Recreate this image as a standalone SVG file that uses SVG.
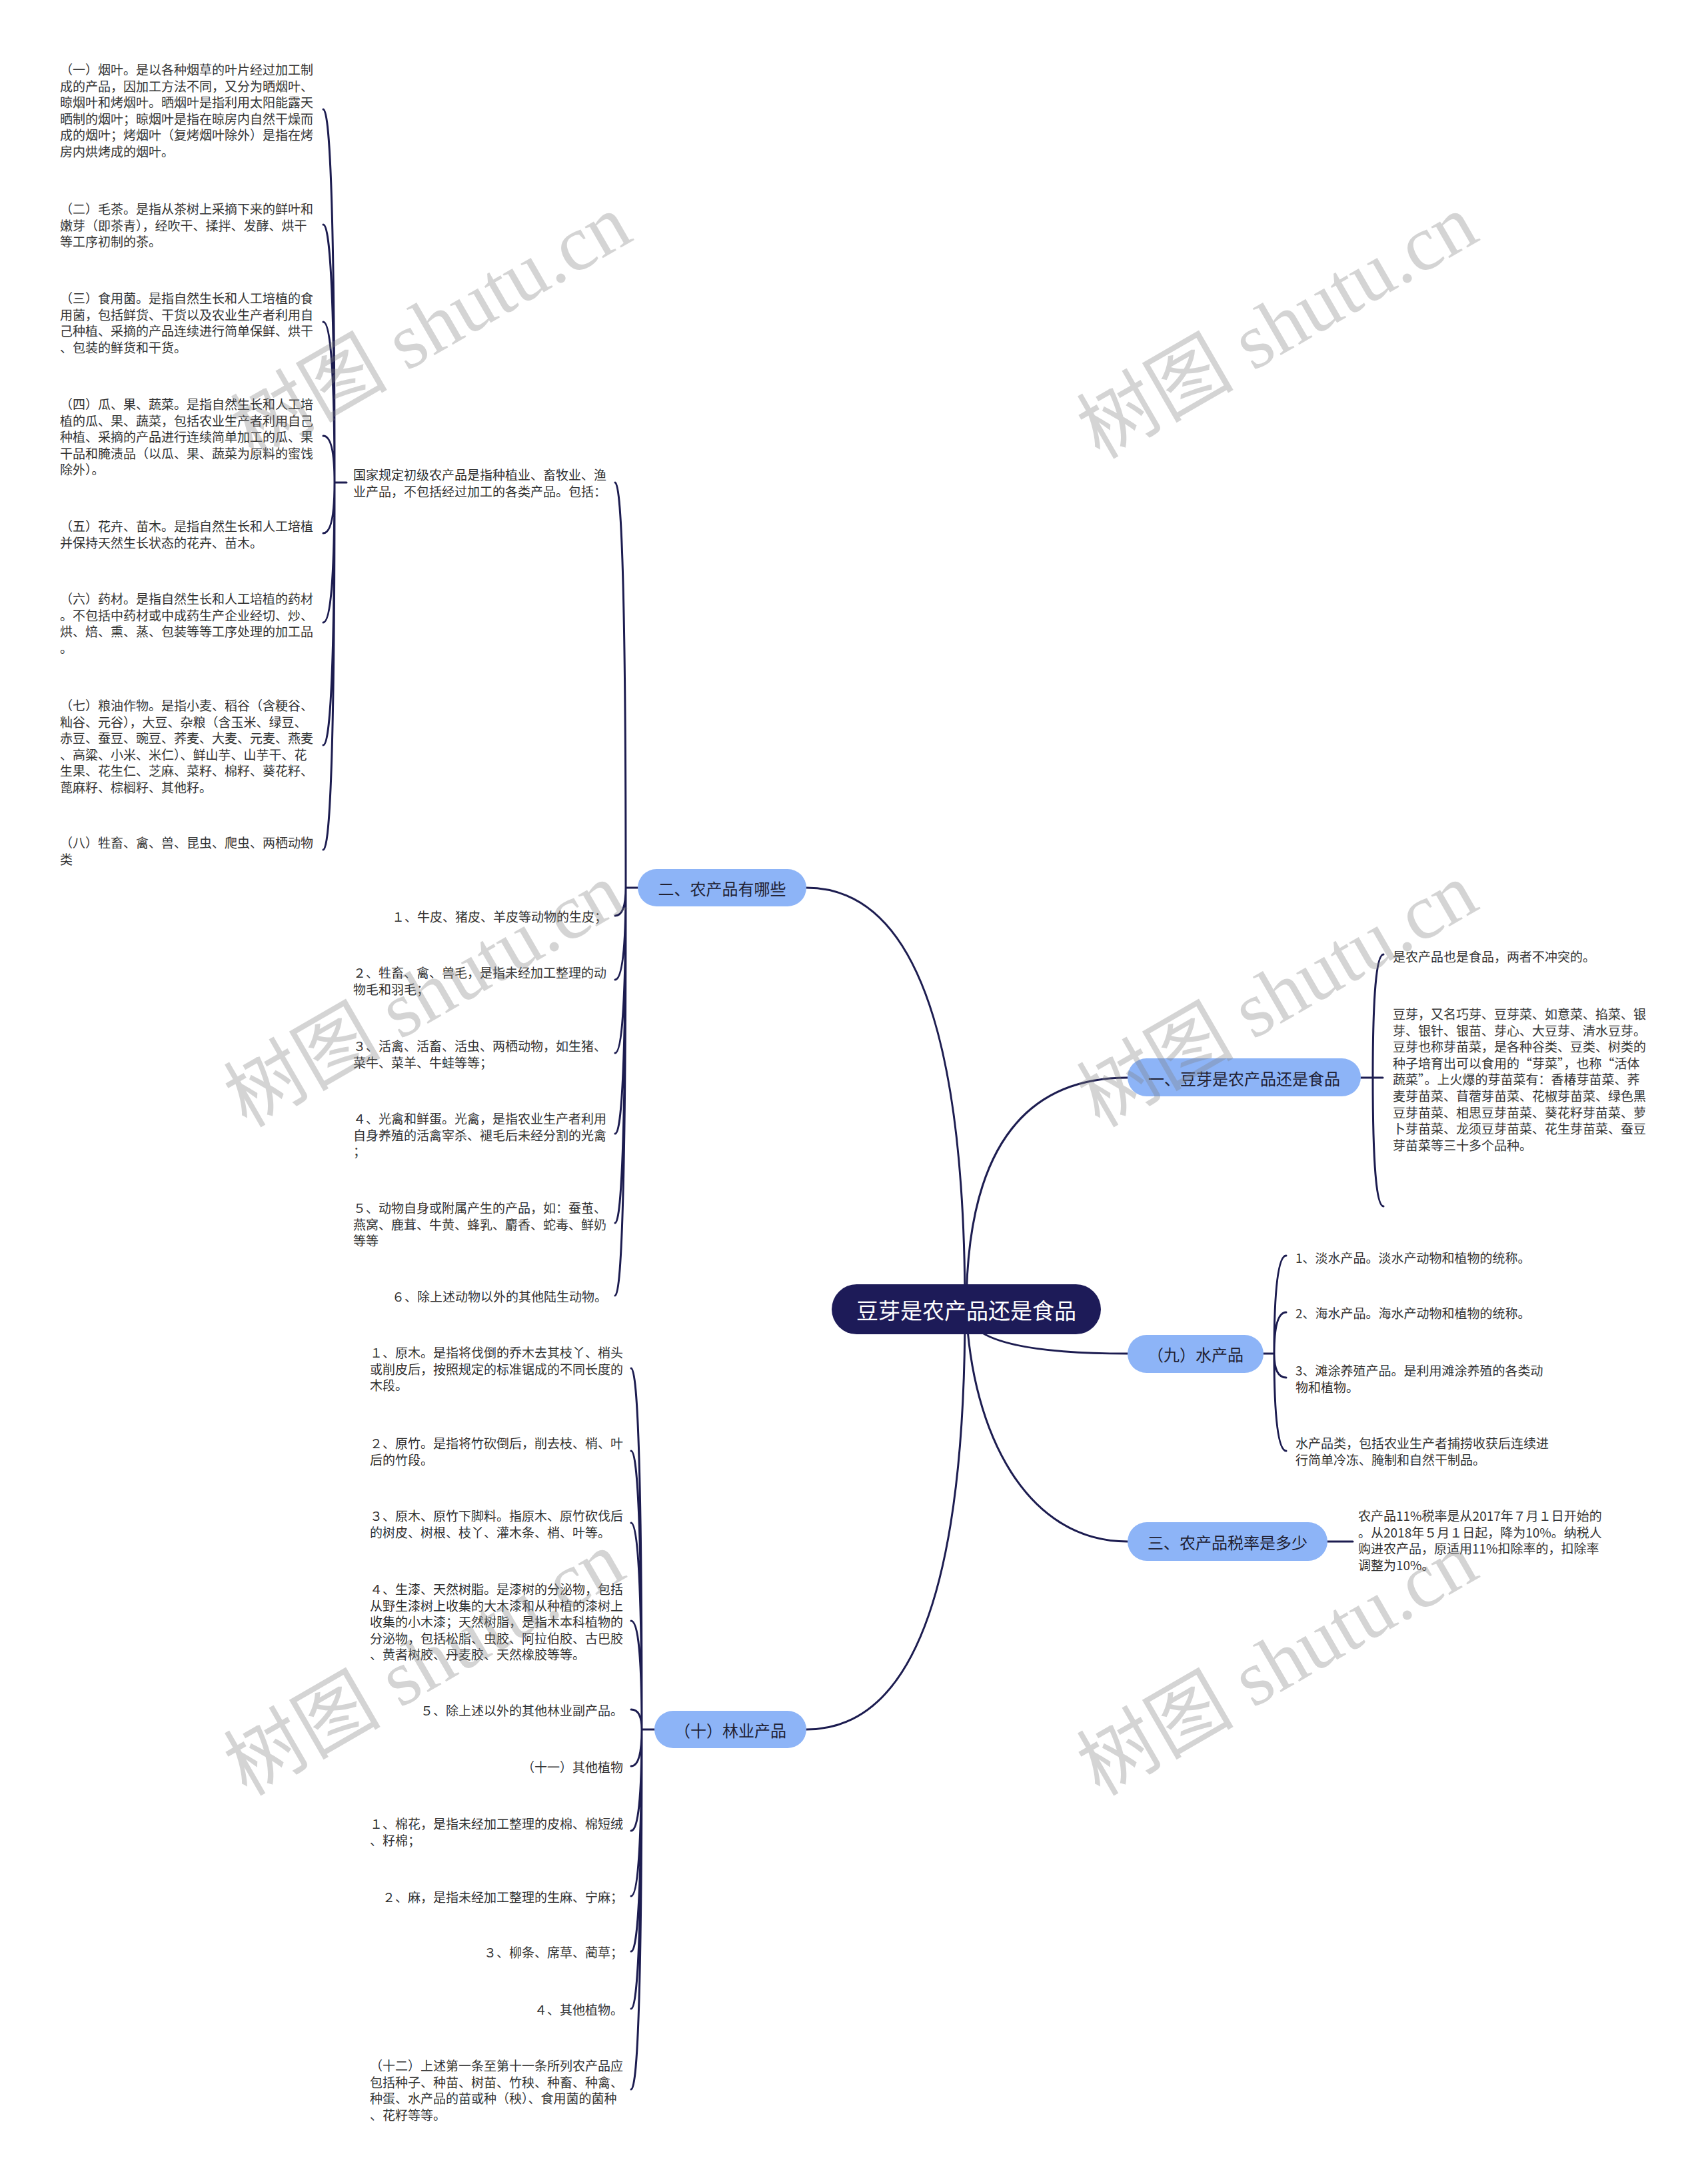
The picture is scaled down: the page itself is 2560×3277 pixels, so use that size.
<svg xmlns="http://www.w3.org/2000/svg" width="2560" height="3277" viewBox="0 0 2560 3277">
<style>
text{font-family:"Noto Sans CJK SC","Noto Sans",sans-serif;dominant-baseline:central}
.t{font-size:19px;fill:#333333}
.e{text-anchor:end}
.ln{fill:none;stroke:#1c1c50;stroke-width:3;stroke-linecap:round}
.br{fill:#8db4f7}
.bt{font-size:24px;fill:#222233;text-anchor:middle}
.rt{font-size:33px;fill:#ffffff;text-anchor:middle}
.wm{font-family:"Liberation Serif","Noto Sans CJK SC",serif;font-size:118px;fill:#808080;opacity:0.33;dominant-baseline:alphabetic}
</style>
<rect width="2560" height="3277" fill="#ffffff"/>
<g id="connectors">
<path class="ln" d="M1448 1965 Q1448 1332 1210 1332"/>
<path class="ln" d="M1450 1965 Q1450 1617 1692 1617"/>
<path class="ln" d="M1450 1965 Q1450 2031 1692 2031"/>
<path class="ln" d="M1450 1965 C1458 2150 1540 2313 1692 2313"/>
<path class="ln" d="M1448 1965 Q1448 2595 1210 2595"/>
<path class="ln" d="M2042 1617 H2075 M2060 1617 Q2060 1432 2076 1432 M2060 1617 Q2060 1810 2076 1810"/>
<path class="ln" d="M1896 2031 H1912 M1912 2031 Q1912 1884 1930 1884 M1912 2031 Q1912 1969 1930 1969 M1912 2031 Q1912 2067 1930 2067 M1912 2031 Q1912 2177 1930 2177"/>
<path class="ln" d="M1992 2313 H2030"/>
<path class="ln" d="M957 1332 H939 M939 1332 Q939 724 923 724 M939 1332 Q939 1374 923 1374 M939 1332 Q939 1470 923 1470 M939 1332 Q939 1580 923 1580 M939 1332 Q939 1701 923 1701 M939 1332 Q939 1835 923 1835 M939 1332 Q939 1944 923 1944"/>
<path class="ln" d="M520 724 H502 M502 724 Q502 164 485 164 M502 724 Q502 337 485 337 M502 724 Q502 483 485 483 M502 724 Q502 654 485 654 M502 724 Q502 800 485 800 M502 724 Q502 934 485 934 M502 724 Q502 1118 485 1118 M502 724 Q502 1275 485 1275"/>
<path class="ln" d="M982 2595 H963 M963 2595 Q963 2053 947 2053 M963 2595 Q963 2177 947 2177 M963 2595 Q963 2285 947 2285 M963 2595 Q963 2432 947 2432 M963 2595 Q963 2565 947 2565 M963 2595 Q963 2650 947 2650 M963 2595 Q963 2747 947 2747 M963 2595 Q963 2845 947 2845 M963 2595 Q963 2928 947 2928 M963 2595 Q963 3014 947 3014 M963 2595 Q963 3135 947 3135"/>
</g>
<g id="root">
<rect x="1248" y="1927" width="404" height="75" rx="37.5" fill="#1d1b58"/>
<text class="rt" x="1450" y="1965">豆芽是农产品还是食品</text>
</g>
<g id="b1">
<rect class="br" x="1692" y="1588" width="350" height="57" rx="28.5"/>
<text class="bt" x="1867" y="1617">一、豆芽是农产品还是食品</text>
</g>
<g id="b1-c1"><text class="t" x="2090" y="1434">是农产品也是食品，两者不冲突的。</text></g>
<g id="b1-c2"><text class="t" x="2090" y="1520">
<tspan x="2090" dy="0">豆芽，又名巧芽、豆芽菜、如意菜、掐菜、银</tspan>
<tspan x="2090" dy="24.6">芽、银针、银苗、芽心、大豆芽、清水豆芽。</tspan>
<tspan x="2090" dy="24.6">豆芽也称芽苗菜，是各种谷类、豆类、树类的</tspan>
<tspan x="2090" dy="24.6">种子培育出可以食用的“芽菜”，也称“活体</tspan>
<tspan x="2090" dy="24.6">蔬菜”。上火爆的芽苗菜有：香椿芽苗菜、荞</tspan>
<tspan x="2090" dy="24.6">麦芽苗菜、苜蓿芽苗菜、花椒芽苗菜、绿色黑</tspan>
<tspan x="2090" dy="24.6">豆芽苗菜、相思豆芽苗菜、葵花籽芽苗菜、萝</tspan>
<tspan x="2090" dy="24.6">卜芽苗菜、龙须豆芽苗菜、花生芽苗菜、蚕豆</tspan>
<tspan x="2090" dy="24.6">芽苗菜等三十多个品种。</tspan>
</text></g>
<g id="b9">
<rect class="br" x="1692" y="2003" width="204" height="57" rx="28.5"/>
<text class="bt" x="1794" y="2031">（九）水产品</text>
</g>
<g id="b9-c1"><text class="t" x="1944" y="1886">1、淡水产品。淡水产动物和植物的统称。</text></g>
<g id="b9-c2"><text class="t" x="1944" y="1969">2、海水产品。海水产动物和植物的统称。</text></g>
<g id="b9-c3"><text class="t" x="1944" y="2055"><tspan x="1944" dy="0">3、滩涂养殖产品。是利用滩涂养殖的各类动</tspan><tspan x="1944" dy="24.6">物和植物。</tspan></text></g>
<g id="b9-c4"><text class="t" x="1944" y="2164"><tspan x="1944" dy="0">水产品类，包括农业生产者捕捞收获后连续进</tspan><tspan x="1944" dy="24.6">行简单冷冻、腌制和自然干制品。</tspan></text></g>
<g id="b3">
<rect class="br" x="1692" y="2284" width="300" height="58" rx="29"/>
<text class="bt" x="1842" y="2313">三、农产品税率是多少</text>
</g>
<g id="b3-c1"><text class="t" x="2038" y="2273">
<tspan x="2038" dy="0">农产品11%税率是从2017年７月１日开始的</tspan>
<tspan x="2038" dy="24.6">。从2018年５月１日起，降为10%。纳税人</tspan>
<tspan x="2038" dy="24.6">购进农产品，原适用11%扣除率的，扣除率</tspan>
<tspan x="2038" dy="24.6">调整为10%。</tspan>
</text></g>
<g id="b2">
<rect class="br" x="957" y="1304" width="253" height="56" rx="28"/>
<text class="bt" x="1083.5" y="1332">二、农产品有哪些</text>
</g>
<g id="b2-c0"><text class="t" x="530" y="711"><tspan x="530" dy="0">国家规定初级农产品是指种植业、畜牧业、渔</tspan><tspan x="530" dy="25">业产品，不包括经过加工的各类产品。包括：</tspan></text></g>
<g id="b2-c0-1"><text class="t" x="90" y="103">
<tspan x="90" dy="0">（一）烟叶。是以各种烟草的叶片经过加工制</tspan>
<tspan x="90" dy="24.6">成的产品，因加工方法不同，又分为晒烟叶、</tspan>
<tspan x="90" dy="24.6">晾烟叶和烤烟叶。晒烟叶是指利用太阳能露天</tspan>
<tspan x="90" dy="24.6">晒制的烟叶；晾烟叶是指在晾房内自然干燥而</tspan>
<tspan x="90" dy="24.6">成的烟叶；烤烟叶（复烤烟叶除外）是指在烤</tspan>
<tspan x="90" dy="24.6">房内烘烤成的烟叶。</tspan>
</text></g>
<g id="b2-c0-2"><text class="t" x="90" y="312">
<tspan x="90" dy="0">（二）毛茶。是指从茶树上采摘下来的鲜叶和</tspan>
<tspan x="90" dy="24.6">嫩芽（即茶青），经吹干、揉拌、发酵、烘干</tspan>
<tspan x="90" dy="24.6">等工序初制的茶。</tspan>
</text></g>
<g id="b2-c0-3"><text class="t" x="90" y="446">
<tspan x="90" dy="0">（三）食用菌。是指自然生长和人工培植的食</tspan>
<tspan x="90" dy="24.6">用菌，包括鲜货、干货以及农业生产者利用自</tspan>
<tspan x="90" dy="24.6">己种植、采摘的产品连续进行简单保鲜、烘干</tspan>
<tspan x="90" dy="24.6">、包装的鲜货和干货。</tspan>
</text></g>
<g id="b2-c0-4"><text class="t" x="90" y="605">
<tspan x="90" dy="0">（四）瓜、果、蔬菜。是指自然生长和人工培</tspan>
<tspan x="90" dy="24.6">植的瓜、果、蔬菜，包括农业生产者利用自己</tspan>
<tspan x="90" dy="24.6">种植、采摘的产品进行连续简单加工的瓜、果</tspan>
<tspan x="90" dy="24.6">干品和腌渍品（以瓜、果、蔬菜为原料的蜜饯</tspan>
<tspan x="90" dy="24.6">除外）。</tspan>
</text></g>
<g id="b2-c0-5"><text class="t" x="90" y="788">
<tspan x="90" dy="0">（五）花卉、苗木。是指自然生长和人工培植</tspan>
<tspan x="90" dy="24.6">并保持天然生长状态的花卉、苗木。</tspan>
</text></g>
<g id="b2-c0-6"><text class="t" x="90" y="897">
<tspan x="90" dy="0">（六）药材。是指自然生长和人工培植的药材</tspan>
<tspan x="90" dy="24.6">。不包括中药材或中成药生产企业经切、炒、</tspan>
<tspan x="90" dy="24.6">烘、焙、熏、蒸、包装等等工序处理的加工品</tspan>
<tspan x="90" dy="24.6">。</tspan>
</text></g>
<g id="b2-c0-7"><text class="t" x="90" y="1057">
<tspan x="90" dy="0">（七）粮油作物。是指小麦、稻谷（含粳谷、</tspan>
<tspan x="90" dy="24.6">籼谷、元谷），大豆、杂粮（含玉米、绿豆、</tspan>
<tspan x="90" dy="24.6">赤豆、蚕豆、豌豆、荞麦、大麦、元麦、燕麦</tspan>
<tspan x="90" dy="24.6">、高粱、小米、米仁）、鲜山芋、山芋干、花</tspan>
<tspan x="90" dy="24.6">生果、花生仁、芝麻、菜籽、棉籽、葵花籽、</tspan>
<tspan x="90" dy="24.6">蓖麻籽、棕榈籽、其他籽。</tspan>
</text></g>
<g id="b2-c0-8"><text class="t" x="90" y="1263">
<tspan x="90" dy="0">（八）牲畜、禽、兽、昆虫、爬虫、两栖动物</tspan>
<tspan x="90" dy="24.6">类</tspan>
</text></g>
<g id="b2-c1"><text class="t e" x="911" y="1374">１、牛皮、猪皮、羊皮等动物的生皮；</text></g>
<g id="b2-c2"><text class="t" x="530" y="1458"><tspan x="530" dy="0">２、牲畜、禽、兽毛，是指未经加工整理的动</tspan><tspan x="530" dy="24.6">物毛和羽毛；</tspan></text></g>
<g id="b2-c3"><text class="t" x="530" y="1568"><tspan x="530" dy="0">３、活禽、活畜、活虫、两栖动物，如生猪、</tspan><tspan x="530" dy="24.6">菜牛、菜羊、牛蛙等等；</tspan></text></g>
<g id="b2-c4"><text class="t" x="530" y="1677"><tspan x="530" dy="0">４、光禽和鲜蛋。光禽，是指农业生产者利用</tspan><tspan x="530" dy="24.6">自身养殖的活禽宰杀、褪毛后未经分割的光禽</tspan><tspan x="530" dy="24.6">；</tspan></text></g>
<g id="b2-c5"><text class="t" x="530" y="1811"><tspan x="530" dy="0">５、动物自身或附属产生的产品，如：蚕茧、</tspan><tspan x="530" dy="24.6">燕窝、鹿茸、牛黄、蜂乳、麝香、蛇毒、鲜奶</tspan><tspan x="530" dy="24.6">等等</tspan></text></g>
<g id="b2-c6"><text class="t e" x="911" y="1944">６、除上述动物以外的其他陆生动物。</text></g>
<g id="b10">
<rect class="br" x="982" y="2567" width="228" height="56" rx="28"/>
<text class="bt" x="1096" y="2595">（十）林业产品</text>
</g>
<g id="b10-c1"><text class="t" x="555" y="2028"><tspan x="555" dy="0">１、原木。是指将伐倒的乔木去其枝丫、梢头</tspan><tspan x="555" dy="24.6">或削皮后，按照规定的标准锯成的不同长度的</tspan><tspan x="555" dy="24.6">木段。</tspan></text></g>
<g id="b10-c2"><text class="t" x="555" y="2164"><tspan x="555" dy="0">２、原竹。是指将竹砍倒后，削去枝、梢、叶</tspan><tspan x="555" dy="24.6">后的竹段。</tspan></text></g>
<g id="b10-c3"><text class="t" x="555" y="2273"><tspan x="555" dy="0">３、原木、原竹下脚料。指原木、原竹砍伐后</tspan><tspan x="555" dy="24.6">的树皮、树根、枝丫、灌木条、梢、叶等。</tspan></text></g>
<g id="b10-c4"><text class="t" x="555" y="2383"><tspan x="555" dy="0">４、生漆、天然树脂。是漆树的分泌物，包括</tspan><tspan x="555" dy="24.6">从野生漆树上收集的大木漆和从种植的漆树上</tspan><tspan x="555" dy="24.6">收集的小木漆；天然树脂，是指木本科植物的</tspan><tspan x="555" dy="24.6">分泌物，包括松脂、虫胶、阿拉伯胶、古巴胶</tspan><tspan x="555" dy="24.6">、黄耆树胶、丹麦胶、天然橡胶等等。</tspan></text></g>
<g id="b10-c5"><text class="t e" x="935" y="2565">５、除上述以外的其他林业副产品。</text></g>
<g id="b10-c6"><text class="t e" x="935" y="2650">（十一）其他植物</text></g>
<g id="b10-c7"><text class="t" x="555" y="2735"><tspan x="555" dy="0">１、棉花，是指未经加工整理的皮棉、棉短绒</tspan><tspan x="555" dy="24.6">、籽棉；</tspan></text></g>
<g id="b10-c8"><text class="t e" x="935" y="2845">２、麻，是指未经加工整理的生麻、宁麻；</text></g>
<g id="b10-c9"><text class="t e" x="935" y="2928">３、柳条、席草、蔺草；</text></g>
<g id="b10-c10"><text class="t e" x="935" y="3014">４、其他植物。</text></g>
<g id="b10-c11"><text class="t" x="555" y="3098"><tspan x="555" dy="0">（十二）上述第一条至第十一条所列农产品应</tspan><tspan x="555" dy="24.6">包括种子、种苗、树苗、竹秧、种畜、种禽、</tspan><tspan x="555" dy="24.6">种蛋、水产品的苗或种（秧）、食用菌的菌种</tspan><tspan x="555" dy="24.6">、花籽等等。</tspan></text></g>
<g id="watermarks">
<text class="wm" transform="translate(380,690) rotate(-30)">树图 shutu.cn</text>
<text class="wm" transform="translate(1650,690) rotate(-30)">树图 shutu.cn</text>
<text class="wm" transform="translate(370,1693) rotate(-30)">树图 shutu.cn</text>
<text class="wm" transform="translate(1650,1693) rotate(-30)">树图 shutu.cn</text>
<text class="wm" transform="translate(370,2696) rotate(-30)">树图 shutu.cn</text>
<text class="wm" transform="translate(1650,2696) rotate(-30)">树图 shutu.cn</text>
</g>
</svg>
